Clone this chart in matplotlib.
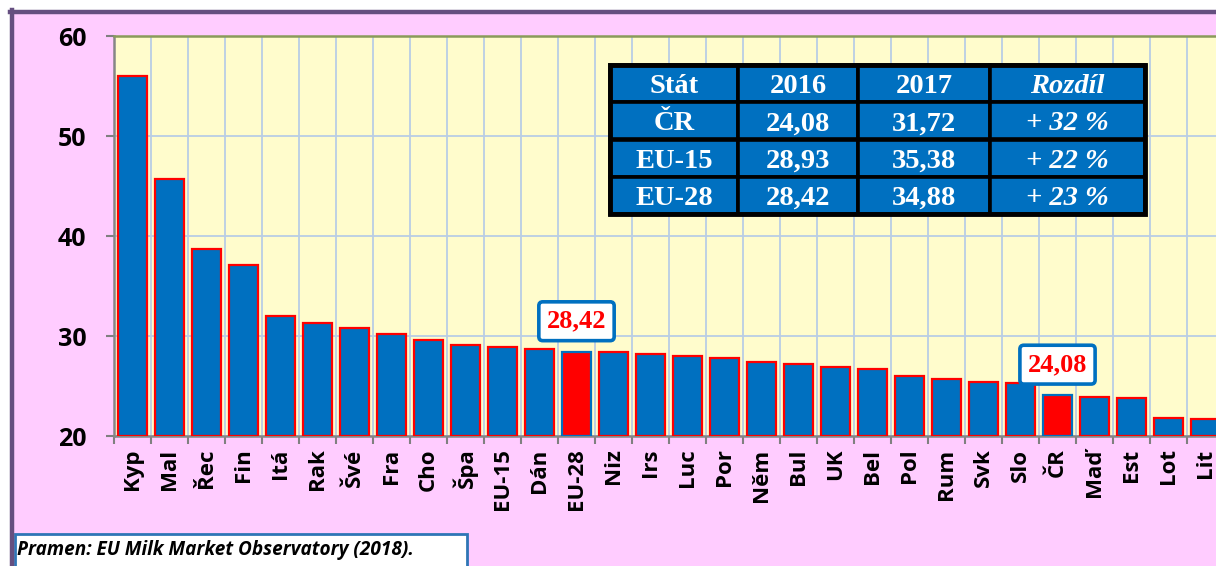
import matplotlib
matplotlib.use("Agg")
import matplotlib.pyplot as plt
from matplotlib.patches import Rectangle
import numpy as np

plt.rcParams['font.family'] = ['Open Sans', 'DejaVu Sans']

categories = ["Kyp", "Mal", "Řec", "Fin", "Itá", "Rak", "Švé", "Fra", "Cho", "Špa",
              "EU-15", "Dán", "EU-28", "Niz", "Irs", "Luc", "Por", "Něm", "Bul", "UK",
              "Bel", "Pol", "Rum", "Svk", "Slo", "ČR", "Maď", "Est", "Lot", "Lit"]
values = [56.0, 45.7, 38.7, 37.1, 32.0, 31.3, 30.8, 30.2, 29.6, 29.1,
          28.93, 28.7, 28.42, 28.4, 28.2, 28.0, 27.8, 27.4, 27.2, 26.9,
          26.7, 26.0, 25.7, 25.4, 25.35, 24.08, 23.9, 23.8, 21.8, 21.7]
highlight = ["EU-28", "ČR"]
highlight_labels = {"EU-28": "28,42", "ČR": "24,08"}
yticks = [20, 30, 40, 50, 60]

table_header = ["Stát", "2016", "2017", "Rozdíl"]
table_rows = [["ČR", "24,08", "31,72", "+ 32 %"],
              ["EU-15", "28,93", "35,38", "+ 22 %"],
              ["EU-28", "28,42", "34,88", "+ 23 %"]]
source_text = "Pramen: EU Milk Market Observatory (2018)."

W, H = 1216, 566
fig = plt.figure(figsize=(W / 100, H / 100), dpi=100)
fig.patch.set_facecolor("white")

fig.patches.append(Rectangle((10 / W, 0), 1.2, (H - 10) / H, transform=fig.transFigure,
                             facecolor="#ffccff", edgecolor="none", zorder=-2))
fig.add_artist(plt.Line2D([12 / W, 12 / W], [0, (H - 10) / H], color="#654f80", lw=3.2,
                          transform=fig.transFigure, zorder=5))
fig.add_artist(plt.Line2D([10 / W, 1.0], [(H - 12) / H, (H - 12) / H], color="#654f80", lw=3.2,
                          transform=fig.transFigure, zorder=5))

ax_left, ax_right, ax_top, ax_bottom = 114, 1224, 36, 436
ax = fig.add_axes([ax_left / W, (H - ax_bottom) / H, (ax_right - ax_left) / W,
                   (ax_bottom - ax_top) / H])
ax.set_facecolor("#fffccc")

x = np.arange(len(categories))
fills = ["#ff0000" if c in highlight else "#0070c0" for c in categories]
edges = ["#0070c0" if c in highlight else "#ff0000" for c in categories]
bars = ax.bar(x, np.array(values) - 20, bottom=20, width=0.76, color=fills,
              edgecolor=edges, linewidth=1.6, zorder=3)

ax.set_xlim(-0.5, len(categories) - 0.5)
ax.set_ylim(20, 60)
ax.set_yticks(yticks)
ax.set_yticklabels([str(v) for v in yticks], fontsize=18, fontweight="bold")
ax.set_xticks(x)
ax.set_xticklabels(categories, rotation=90, fontsize=16, fontweight="bold")
ax.set_xticks(np.arange(len(categories) + 1) - 0.5, minor=True)
ax.tick_params(axis="x", which="major", length=0, pad=9)
ax.tick_params(axis="x", which="minor", length=6, width=1.5, color="#808080")
ax.tick_params(axis="y", which="major", length=6, width=1.5, color="#808080", pad=14)
ax.grid(True, which="minor", axis="x", color="#b9cde5", lw=1.3, zorder=0)
ax.grid(True, which="major", axis="y", color="#b9cde5", lw=1.3, zorder=0)
ax.set_axisbelow(True)
for s in ["left", "bottom"]:
    ax.spines[s].set_color("#868686")
    ax.spines[s].set_linewidth(1.8)
ax.spines["top"].set_color("#8a9a5b")
ax.spines["top"].set_linewidth(1.8)
ax.spines["right"].set_visible(False)

for c, b in zip(categories, bars):
    if c in highlight_labels:
        ax.annotate(highlight_labels[c], xy=(b.get_x() + b.get_width() / 2, b.get_y() + b.get_height()),
                    xytext=(0, 22), textcoords="offset points", ha="center", va="center",
                    fontsize=19, fontweight="bold", color="#ff0000",
                    family=["Liberation Serif"], zorder=6,
                    bbox=dict(boxstyle="round,pad=0.3,rounding_size=0.15", fc="white",
                              ec="#0070c0", lw=2.6))

tx0, tx1, ty0, ty1 = 610, 1145, 65, 214
axw, axh = ax_right - ax_left, ax_bottom - ax_top
bbox = [(tx0 - ax_left) / axw, (ax_bottom - ty1) / axh, (tx1 - tx0) / axw, (ty1 - ty0) / axh]
tab = ax.table(cellText=[table_header] + table_rows, cellLoc="center", bbox=bbox,
               colWidths=[128, 120, 132, 155])
tab.auto_set_font_size(False)
for (r, cidx), cell in tab.get_celld().items():
    cell.set_facecolor("#0070c0")
    cell.set_edgecolor("black")
    cell.set_linewidth(2.6)
    t = cell.get_text()
    t.set_color("white")
    t.set_fontsize(20.5)
    t.set_fontweight("bold")
    t.set_fontfamily(["Liberation Serif"])
    t.set_verticalalignment("center_baseline")
    if cidx == 3:
        t.set_fontstyle("italic")
tab.set_zorder(7)

ax.add_patch(Rectangle((bbox[0], bbox[1]), bbox[2], bbox[3], transform=ax.transAxes,
                       fill=False, ec="black", lw=3.5, zorder=8, clip_on=False))

fig.patches.append(Rectangle((15 / W, -0.05), 452 / W, (H - 534) / H + 0.05, transform=fig.transFigure,
                             facecolor="white", edgecolor="#2e75b6", lw=2, zorder=4))
fig.text(17 / W, (H - 550) / H, source_text, fontsize=13.7, fontweight="bold", fontstyle="italic",
         ha="left", va="center", color="black", zorder=6)

fig.savefig("out.png", dpi=100, facecolor=fig.get_facecolor())
